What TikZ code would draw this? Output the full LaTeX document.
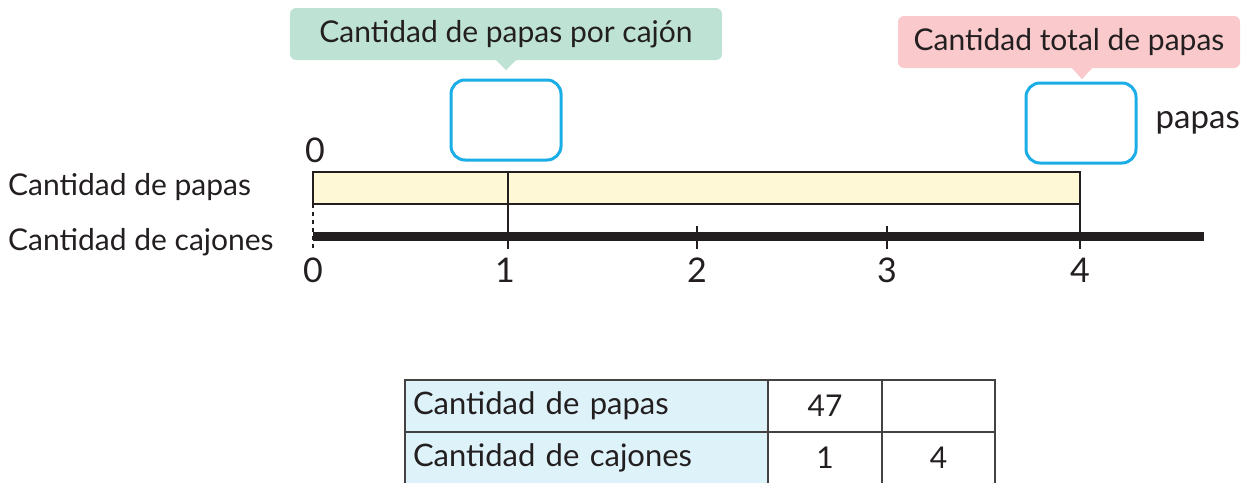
\documentclass[tikz,border=0pt]{standalone}
\usepackage{fontspec}
\setmainfont{Lato}
\usetikzlibrary{positioning}
\definecolor{ink}{HTML}{231F20}
\definecolor{tipgreen}{HTML}{BEE3D4}
\definecolor{tippink}{HTML}{F9C9CB}
\definecolor{boxblue}{HTML}{1AADE8}
\definecolor{barfill}{HTML}{FFF8D6}
\definecolor{cellblue}{HTML}{DEF2FA}

\begin{document}
\begin{tikzpicture}[
  x=1pt,y=-1pt,
  txt/.style={font=\fontsize{30}{35}\selectfont,text=ink,inner sep=0pt},
  digit/.style={font=\fontsize{34}{38}\selectfont,text=ink,inner sep=0pt},
  tip/.style={rectangle,rounded corners=6pt,minimum height=52pt,font=\fontsize{30}{35}\selectfont,text=ink},
  ansbox/.style={rectangle,rounded corners=14pt,draw=boxblue,line width=3pt,minimum width=110pt,minimum height=80pt},
  seg/.style={rectangle,draw=ink,line width=1.6pt,fill=barfill,minimum height=32pt,inner sep=0pt,outer sep=0pt},
  hd/.style={rectangle,draw=ink!85,line width=1.6pt,fill=cellblue,minimum width=363pt,minimum height=52pt,
             text width=347pt,inner xsep=8pt,align=left,outer sep=0pt,font=\fontsize{31}{35}\selectfont,text=ink},
  num/.style={rectangle,draw=ink!85,line width=1.6pt,minimum width=114pt,minimum height=52pt,outer sep=0pt,
              font=\fontsize{30}{35}\selectfont,text=ink},
  tck/.style={draw=ink,line width=1.6pt}
]
\useasboundingbox (0,0) rectangle (1247,482);
% callouts and answer boxes
\node[tip,fill=tipgreen,minimum width=432pt] (cpc) at (506,34) {Cantidad de papas por cajón};
\fill[tipgreen] ([xshift=-10pt]cpc.south) -- ([yshift=-10pt]cpc.south) -- ([xshift=10pt]cpc.south) -- cycle;
\node[tip,fill=tippink,minimum width=342pt] (ctp) at (1069,42) {Cantidad total de papas};
\fill[tippink] ([xshift=3pt]ctp.south) -- ([xshift=13pt,yshift=-11pt]ctp.south) -- ([xshift=23pt]ctp.south) -- cycle;
\node[ansbox] (b1) at (506,120) {};
\node[ansbox] (b4) at (1081,123) {};
\node[txt,font=\fontsize{33}{38}\selectfont,right=18pt of b4] (pp) {papas};
% tape and number line
\node[txt,anchor=west] (lp) at (8,187) {Cantidad de papas};
\node[txt,anchor=west] (lc) at (8,242) {Cantidad de cajones};
\node[digit] (z0) at (315,150) {0};
\node[seg,minimum width=195pt] (s1) at (410.5,188) {};
\node[seg,minimum width=572pt,right=0pt of s1] (s2) {};
\coordinate (o) at (313,236);
\coordinate (e) at (1204,236);
\draw[ink,line width=9pt] (o) -- (e);
\draw[tck,dash pattern=on 4pt off 4pt] (s1.south west) -- (313,249);
\draw[tck] (s1.south east) -- (508,249);
\draw[tck] (697,226) -- (697,249);
\draw[tck] (887,226) -- (887,249);
\draw[tck] (s2.south east) -- (1080,249);
\node[digit] (n0) at (313,270) {0};
\node[digit] (n1) at (505,270) {1};
\node[digit] (n2) at (697,270) {2};
\node[digit] (n3) at (887,270) {3};
\node[digit] (n4) at (1080,270) {4};
% table
\node[hd,anchor=north west] (c11) at (405,380) {Cantidad de papas};
\node[num,right=0pt of c11] (c12) {47};
\node[num,right=0pt of c12,minimum width=113pt] (c13) {};
\node[hd,below=0pt of c11] (c21) {Cantidad de cajones};
\node[num,below=0pt of c12] (c22) {1};
\node[num,below=0pt of c13,minimum width=113pt] (c23) {4};
\end{tikzpicture}
\end{document}
